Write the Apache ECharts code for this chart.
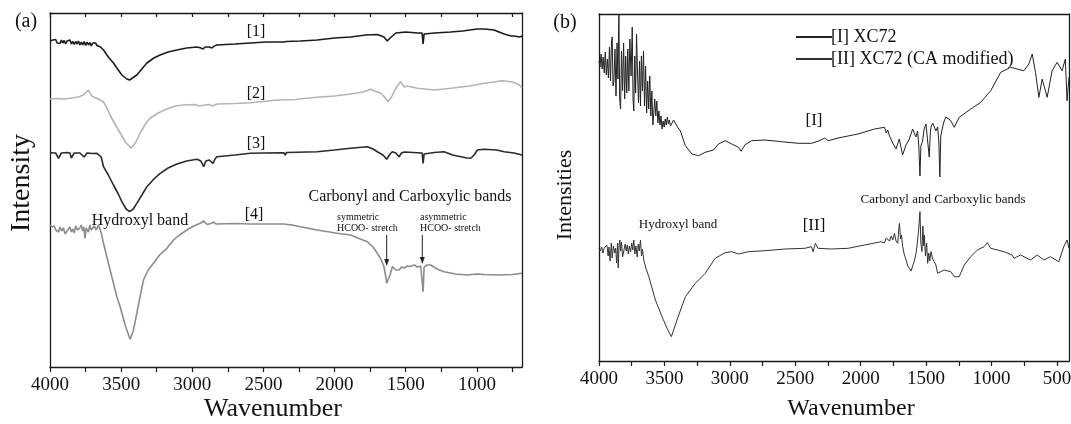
<!DOCTYPE html>
<html><head><meta charset="utf-8">
<script src="https://cdn.jsdelivr.net/npm/echarts@6/dist/echarts.min.js"></script>
<style>html,body{margin:0;padding:0;background:#fff}#c{width:1071px;height:424px}</style>
</head><body><div id="c"></div>
<script>
// ---------- Panel (a) ----------
const wn1 = [4000,3990,3980,3970,3960,3950,3940,3930,3920,3910,3900,3890,3880,3870,3860,3850,3840,3830,3820,3810,3800,3790,3780,3770,3760,3750,3740,3730,3720,3710,3700,3690,3680,3670,3660,3645,3624,3590,3554,3520,3495,3460,3441,3420,3390,3355,3319,3270,3226,3170,3108,3040,2967,2940,2925,2910,2880,2862,2845,2827,2700,2592,2480,2357,2350,2340,2240,2122,2000,1888,1780,1700,1670,1653,1630,1610,1594,1570,1559,1500,1418,1385,1378,1371,1300,1184,1100,1000,949,880,808,760,738,700,683];
const int1 = [326,324,327,325,327.5,324,326,323.5,327,324,326.5,323,326,324,327,323,325.5,322.5,325.5,323,326,322,325,322,325.5,321.5,325,322,324.5,321,324,322,324,321.5,322,320,317,310,304,297,292,288,287,289,292,298,304,309,312,315,317,319,320,319,318,320,320,319,321,322,323,324,325,325,326.5,325.5,326,327,329,330,332,332.5,331,330,326,329,331,334,335,335,334,334,323,333,334,335,336,338,338,337,333,331,331,330,331];

const wn2 = [4000,3950,3900,3859,3800,3765,3730,3712,3695,3660,3624,3600,3578,3540,3507,3470,3430,3400,3366,3330,3296,3240,3179,3120,3061,2990,2945,2932,2915,2880,2860,2827,2700,2592,2400,2270,2263,2250,2122,2000,1888,1800,1747,1720,1676,1650,1625,1600,1580,1560,1536,1510,1490,1465,1418,1300,1184,1050,949,820,750,700,683];
const int2 = [268,268.5,268,268.7,270,272,277,272,270,268,265,259,252,242,234,225,218.7,224,234,243,249,254,258,261,262,262.5,261,259.7,262,262.5,261,263,263.5,264.3,267,267.5,269.5,268,269.7,271,273,275,277.7,276,274,270,265.3,270,276,281,285.3,280,281,280.3,278.7,277,278.7,281,283.7,286.3,285,282,278.7];

const wn3 = [4000,3960,3940,3920,3880,3860,3850,3830,3790,3760,3740,3700,3671,3640,3624,3590,3554,3520,3495,3465,3441,3415,3390,3350,3319,3270,3226,3170,3108,3040,2967,2940,2920,2905,2880,2855,2840,2827,2700,2592,2500,2357,2347,2337,2122,2000,1888,1770,1730,1700,1660,1634,1610,1594,1570,1547,1530,1510,1418,1385,1378,1371,1300,1231,1170,1113,1070,1043,1020,996,950,860,808,740,683];
const int3 = [214.3,214,208.7,214,214.5,214,209,214,214,210,214,213.5,213.7,210,200.3,192,182,173,165.3,158,155.3,158,163.7,173,180.3,188,193.7,199,203,206,207.7,206,200.3,206,207,203.7,208,210.3,212,213.7,214,214.3,212,214.5,215.3,217,218.7,220.3,218,215.3,212,207.7,213,215.3,214,210.3,214,215,214.3,214,203.7,213,214.5,215.3,212,210.3,209,208.7,212,217,217.7,217,215.3,214,212];

const wn4 = [4000,3985,3970,3960,3950,3940,3930,3918,3906,3894,3880,3870,3860,3850,3840,3830,3820,3805,3790,3780,3770,3762,3754,3746,3740,3730,3720,3710,3700,3690,3675,3660,3640,3624,3590,3554,3530,3507,3470,3437,3415,3390,3365,3343,3310,3273,3230,3179,3132,3090,3038,2990,2944,2920,2895,2870,2850,2835,2827,2700,2592,2357,2300,2240,2122,1982,1888,1820,1770,1730,1700,1675,1653,1640,1634,1625,1610,1594,1570,1547,1530,1510,1490,1470,1440,1418,1395,1385,1378,1371,1350,1324,1280,1231,1150,1066,1000,950,850,750,683];
const int4 = [142,140,141,137,139,135,140,136,139,133,136,134,140,135,138,134,141,137,139,142,136,140,128.7,139,141,135,142,137,135,141,137,142,134,123.7,104,83.7,70,60.3,41,27.7,36,53.7,72,87,97,103.7,112,118.7,127,132,137,141,143.7,146,142.5,143.5,145,143,143,143.5,143,143,142,140.3,137,133.7,132,128,125.3,120,113.7,108,100.3,90,83.7,84,92,100.3,97,97,100,99,101,100.5,102,100,101,100,75.3,100,102,102,98,95.3,93,92,93,92.5,92,92.5,93.7];

// ---------- Panel (b) ----------
const wnI = [4000,3992,3984,3976,3968,3960,3952,3944,3936,3928,3920,3912,3904,3899,3893,3886,3878,3870,3862,3855,3848,3842,3835,3828,3820,3812,3804,3796,3788,3780,3772,3764,3755,3746,3740,3734,3727,3720,3713,3706,3698,3690,3683,3676,3668,3660,3652,3644,3636,3628,3620,3612,3604,3596,3588,3581,3574,3566,3558,3550,3542,3534,3526,3518,3510,3502,3494,3486,3478,3470,3462,3454,3442,3430,3417,3400,3390,3378,3340,3290,3239,3188,3125,3087,3036,2985,2934,2914,2884,2833,2731,2605,2478,2376,2326,2275,2249,2173,2021,1894,1818,1805,1793,1780,1767,1755,1742,1730,1717,1705,1691,1680,1666,1654,1641,1628,1615,1603,1590,1578,1565,1556,1547,1540,1527,1515,1501,1490,1476,1468,1463,1450,1438,1425,1412,1403,1395,1388,1374,1362,1349,1311,1285,1247,1159,1083,1006,930,854,753,715,689,664,638,613,575,537,499,461,436,423,408];
const intI = [300,294,307,292,304,288,309,286,302,283,314,280,320,324,275,280,312,265,318,282,347,262,252,310,270,318,262,305,268,312,270,322,285,334,262,250,305,268,327,290,258,300,255,305,270,310,255,295,248,280,252,285,245,270,236,234,262,245,260,238,250,236,245,232,240,234,242,236,244,237,241,235,236,241,240,234,232,230,215.3,207,205.3,208.7,211,217,220.3,217,213.7,209.7,216.3,220.3,221,219.3,217.7,217.7,219.7,223,220.3,223,227,232,233.7,228,231,225,227,218,217,212,210,222,220,206,207,216,214,222,224,232,234,224,230,215,185,215,220,232,237,222,204,228,234,238,240,230,234,220,184,225,234,240,244,240.3,233.7,243.7,252,258.7,270.3,288.7,293.7,290.3,297,307,288.7,263.7,282,263.7,290.3,298.7,290.3,302,260.3,283.7];

const wnII = [4000,3990,3980,3970,3960,3949,3940,3930,3924,3915,3906,3899,3890,3880,3873,3865,3858,3853,3846,3840,3835,3828,3820,3810,3800,3792,3784,3776,3768,3759,3750,3742,3734,3726,3718,3708,3700,3692,3683,3675,3668,3658,3640,3619,3569,3518,3480,3447,3404,3340,3264,3188,3112,3036,2985,2934,2858,2731,2579,2427,2376,2364,2346,2326,2224,2097,1970,1844,1830,1818,1805,1793,1780,1767,1755,1742,1730,1717,1710,1704,1695,1688,1679,1668,1653,1640,1628,1615,1603,1590,1577,1570,1565,1558,1552,1547,1540,1532,1525,1518,1514,1505,1496,1488,1480,1472,1463,1450,1438,1425,1412,1362,1311,1285,1247,1209,1159,1108,1057,1032,1006,905,842,829,778,702,651,600,550,486,448,423,408];
const intII = [112.7,110,114,108,113,111,116,105,114,100,118,103,115,108,113,98,118,93,117,121,110,119,104,106,117,110,116,107,115,109,118,111,121,107,115,104,117,110,121,105,112,101,92,84.3,61,44.3,32.7,24.3,41,64.3,77.7,87.7,102.7,108.3,109.3,107,109.3,110.3,112,112.7,114.3,109.3,117.7,112.7,112,112.7,116,119.3,121,118,123,122.7,120,125,121,127.7,120,117.7,130,137.7,122,126,114.3,107,101,95,92.7,90,91,100,107.7,115,121,130,140,149.3,118,109.3,135,115,126,105,118,97.7,108,100,109.3,102,99.3,96,87.7,91,89.3,84.3,84.3,96,104.3,111,114.3,118.3,112.7,109.3,106,102.7,106,101,106,101,104.3,99.3,114.3,121,112.7];

// ---------- Axis ticks ----------
const labelsA = [4000,3500,3000,2500,2000,1500,1000];
const ticksA = [4000,3750,3500,3250,3000,2750,2500,2250,2000,1750,1500,1250,1000,750];
const labelsB = [4000,3500,3000,2500,2000,1500,1000,500];
const ticksB = [4000,3750,3500,3250,3000,2750,2500,2250,2000,1750,1500,1250,1000,750,500];

const zip = (a, b) => a.slice(0, Math.min(a.length, b.length)).map((v, i) => [v, b[i]]);
const SERIF = '"Liberation Serif","DejaVu Serif",serif';
const AX = '#1a1a1a';

const chart = echarts.init(document.getElementById('c'), null, {renderer: 'canvas'});

function bottomX(grid, min, max, ticks, labels) {
  return {
    gridIndex: grid, type: 'value', min: min, max: max, inverse: true, position: 'bottom',
    axisLine: {show: true, onZero: false, lineStyle: {color: AX, width: 1.3}},
    axisTick: {show: true, inside: false, length: 5, customValues: ticks, lineStyle: {color: AX, width: 1.2}},
    axisLabel: {show: true, customValues: labels, formatter: v => String(v), fontFamily: SERIF, fontSize: 19, color: '#111', margin: 9, hideOverlap: false},
    splitLine: {show: false}
  };
}
function topX(grid, min, max, ticks) {
  return {
    gridIndex: grid, type: 'value', min: min, max: max, inverse: true, position: 'top',
    axisLine: {show: true, onZero: false, lineStyle: {color: AX, width: 1.3}},
    axisTick: ticks ? {show: true, inside: true, length: 4, customValues: ticks, lineStyle: {color: AX, width: 1.2}} : {show: false},
    axisLabel: {show: false}, splitLine: {show: false}
  };
}
function yAx(grid, max, pos) {
  return {
    gridIndex: grid, type: 'value', min: 0, max: max, position: pos,
    axisLine: {show: true, onZero: false, lineStyle: {color: AX, width: 1.3}},
    axisTick: {show: false}, axisLabel: {show: false}, splitLine: {show: false}
  };
}
function txt(text, x, y, size, extra, align) {
  return Object.assign({
    type: 'text', x: x, y: y, silent: true,
    style: {text: text, fontFamily: SERIF, fontSize: size, fill: '#111', align: align || 'center', verticalAlign: 'middle'}
  }, extra || {});
}
function arrow(x, y1, y2) {
  return [
    {type: 'line', silent: true, shape: {x1: x, y1: y1, x2: x, y2: y2 - 5}, style: {stroke: '#222', lineWidth: 1}},
    {type: 'polygon', silent: true, shape: {points: [[x - 2.5, y2 - 7], [x + 2.5, y2 - 7], [x, y2]]}, style: {fill: '#222'}}
  ];
}

const lineS = (name, data, xi, yi, color, w) => ({
  name: name, type: 'line', data: data, xAxisIndex: xi, yAxisIndex: yi,
  symbol: 'none', showSymbol: false, smooth: false, animation: false,
  lineStyle: {color: color, width: w}, itemStyle: {color: color}
});

chart.setOption({
  animation: false,
  backgroundColor: '#fff',
  grid: [
    {left: 50, top: 13, right: 549, bottom: 57, containLabel: false, outerBoundsMode: 'none'},
    {left: 599, top: 14, right: 2, bottom: 63, containLabel: false, outerBoundsMode: 'none'}
  ],
  xAxis: [
    bottomX(0, 683, 4000, ticksA, labelsA),
    topX(0, 683, 4000, ticksA),
    bottomX(1, 408, 4000, ticksB, labelsB),
    topX(1, 408, 4000, null)
  ],
  yAxis: [yAx(0, 354, 'left'), yAx(0, 354, 'right'), yAx(1, 347, 'left'), yAx(1, 347, 'right')],
  legend: {
    data: ['[I] XC72', '[II] XC72 (CA modified)'],
    orient: 'vertical', left: 790, top: 23, itemGap: 4, itemWidth: 36, itemHeight: 12,
    itemStyle: {opacity: 0},
    textStyle: {fontFamily: SERIF, fontSize: 18, color: '#111', padding: [0, 0, 0, -6]},
    selectedMode: false
  },
  series: [
    lineS('[1]', zip(wn1, int1), 0, 0, '#1c1c1c', 1.6),
    lineS('[2]', zip(wn2, int2), 0, 0, '#b4b4b4', 1.6),
    lineS('[3]', zip(wn3, int3), 0, 0, '#2a2a2a', 1.6),
    lineS('[4]', zip(wn4, int4), 0, 0, '#8c8c8c', 1.6),
    lineS('[I] XC72', zip(wnI, intI), 2, 2, '#222222', 1),
    lineS('[II] XC72 (CA modified)', zip(wnII, intII), 2, 2, '#333333', 1)
  ],
  graphic: [
    txt('(a)', 26, 22, 20),
    txt('(b)', 565, 23, 20),
    txt('Intensity', 22, 183, 28, {rotation: Math.PI / 2}),
    txt('Intensities', 565, 195, 22, {rotation: Math.PI / 2}),
    txt('Wavenumber', 273, 409, 26),
    txt('Wavenumber', 851, 409, 24),
    txt('[1]', 256, 32, 16),
    txt('[2]', 256, 94, 16),
    txt('[3]', 256, 144, 16),
    txt('[4]', 254, 215, 16),
    txt('Hydroxyl band', 140, 221, 16),
    txt('Carbonyl and Carboxylic bands', 410, 197, 16),
    txt('symmetric', 337, 217, 10, null, 'left'),
    txt('HCOO- stretch', 337, 228, 10, null, 'left'),
    txt('asymmetric', 420, 217, 10, null, 'left'),
    txt('HCOO- stretch', 420, 228, 10, null, 'left'),
    ...arrow(386.7, 235, 266),
    ...arrow(422.3, 235, 264),
    txt('[I]', 814, 121, 17),
    txt('Hydroxyl band', 678, 225, 13),
    txt('[II]', 814, 226, 17),
    txt('Carbonyl and Carboxylic bands', 943, 200, 13)
  ]
});
</script>
</body></html>
